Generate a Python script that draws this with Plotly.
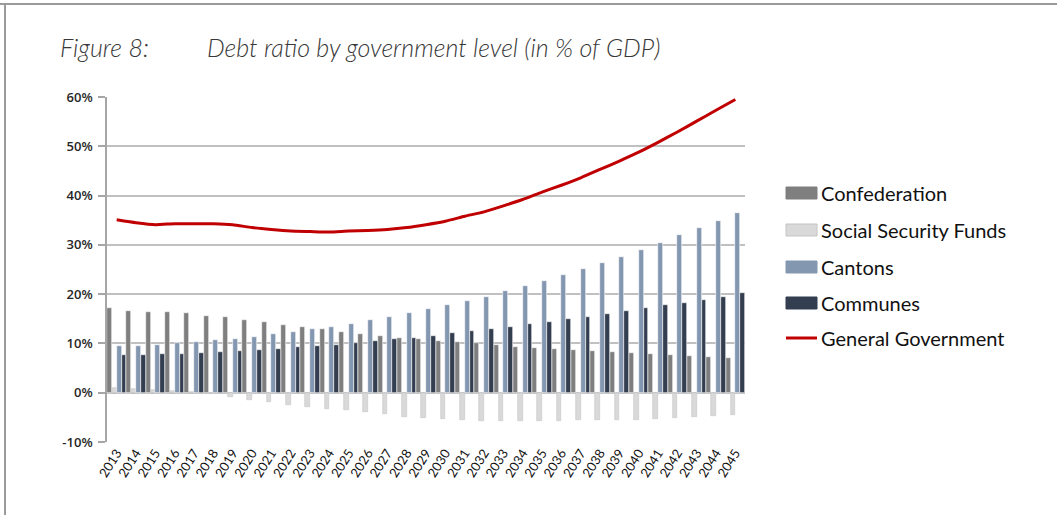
import plotly.graph_objects as go

# Debt ratio by government level, % of GDP
years = ["2013", "2014", "2015", "2016", "2017", "2018", "2019", "2020", "2021",
         "2022", "2023", "2024", "2025", "2026", "2027", "2028", "2029", "2030",
         "2031", "2032", "2033", "2034", "2035", "2036", "2037", "2038", "2039",
         "2040", "2041", "2042", "2043", "2044", "2045"]

confederation = [17.1, 16.6, 16.4, 16.3, 16.1, 15.6, 15.3, 14.8, 14.3, 13.8, 13.3,
                 12.9, 12.4, 12.0, 11.6, 11.2, 10.8, 10.5, 10.2, 10.0, 9.6, 9.3,
                 9.1, 8.8, 8.6, 8.4, 8.2, 8.0, 7.8, 7.6, 7.4, 7.2, 7.1]
social_security = [0.9, 0.7, 0.5, 0.3, 0.1, -0.3, -0.8, -1.4, -1.9, -2.4, -2.8,
                   -3.3, -3.6, -4.0, -4.4, -4.9, -5.1, -5.3, -5.5, -5.7, -5.8, -5.8,
                   -5.8, -5.7, -5.6, -5.6, -5.5, -5.5, -5.3, -5.1, -5.0, -4.8, -4.5]
cantons = [9.5, 9.5, 9.7, 10.0, 10.3, 10.6, 11.0, 11.4, 11.9, 12.4, 12.9,
           13.4, 14.0, 14.7, 15.4, 16.1, 16.9, 17.7, 18.7, 19.5, 20.6, 21.6,
           22.7, 23.9, 25.1, 26.4, 27.6, 29.0, 30.4, 31.9, 33.4, 34.9, 36.5]
communes = [7.7, 7.7, 7.9, 7.9, 8.1, 8.3, 8.5, 8.7, 8.9, 9.2, 9.5,
            9.7, 10.0, 10.4, 10.8, 11.2, 11.6, 12.1, 12.5, 12.9, 13.4, 13.9,
            14.4, 14.9, 15.4, 16.0, 16.6, 17.1, 17.7, 18.3, 18.9, 19.5, 20.2]
general_government = [35.1, 34.5, 34.1, 34.3, 34.3, 34.3, 34.1, 33.5, 33.1, 32.8, 32.7,
                      32.6, 32.8, 32.9, 33.1, 33.5, 34.1, 34.8, 35.8, 36.7, 37.9, 39.2,
                      40.7, 42.1, 43.6, 45.3, 47.0, 48.8, 50.8, 52.9, 55.1, 57.3, 59.5]

y_tick_values = [-10, 0, 10, 20, 30, 40, 50, 60]
y_tick_labels = ["-10%", "0%", "10%", "20%", "30%", "40%", "50%", "60%"]

series_names = ["Confederation", "Social Security Funds", "Cantons", "Communes",
                "General Government"]
series_colors = ["#7f7f7f", "#d9d9d9", "#8497b0", "#333f50", "#c00000"]

# Canvas and plot-area geometry (pixels)
W, H = 1057, 515
L, R, T, B = 107, 745, 97, 442
PW, PH = R - L, B - T


def px_x(px):
    return (px - L) / PW


def px_y(py):
    return (B - py) / PH


fig = go.Figure()

bar_series = [confederation, social_security, cantons, communes]
for name, color, values in zip(series_names[:4], series_colors[:4], bar_series):
    edge = "#c4c4c4" if name == "Social Security Funds" else "white"
    fig.add_trace(go.Bar(
        x=years, y=values, name=name,
        marker=dict(color=color, line=dict(color=edge, width=0.6)),
        showlegend=False,
    ))

fig.add_trace(go.Scatter(
    x=years, y=general_government, name=series_names[4], mode="lines",
    line=dict(color=series_colors[4], width=3, shape="spline", smoothing=0.5),
    showlegend=False,
))

shapes = []
annotations = []

# Frame lines along the top and left edge
shapes.append(dict(type="line", xref="paper", yref="paper",
                   x0=px_x(0), x1=px_x(W), y0=px_y(4), y1=px_y(4),
                   line=dict(color="#9a9a9a", width=2)))
shapes.append(dict(type="line", xref="paper", yref="paper",
                   x0=px_x(5), x1=px_x(5), y0=px_y(4), y1=px_y(H),
                   line=dict(color="#9a9a9a", width=2)))

# Title
title_font = dict(family="Lato", size=25, color="#383838", style="italic", weight=300)
annotations.append(dict(text="Figure 8:", xref="paper", yref="paper",
                        x=px_x(58), y=px_y(47), xanchor="left", yanchor="middle",
                        showarrow=False, font=title_font))
annotations.append(dict(text="Debt ratio by government level (in % of GDP)",
                        xref="paper", yref="paper",
                        x=px_x(205), y=px_y(47), xanchor="left", yanchor="middle",
                        showarrow=False, font=title_font))

# Legend
legend_rows = [193, 230, 267, 303, 338]
for name, color, yc in zip(series_names, series_colors, legend_rows):
    if name == "General Government":
        shapes.append(dict(type="line", xref="paper", yref="paper",
                           x0=px_x(786), x1=px_x(817), y0=px_y(yc), y1=px_y(yc),
                           line=dict(color=color, width=3)))
    else:
        edge = "#c4c4c4" if name == "Social Security Funds" else color
        shapes.append(dict(type="rect", xref="paper", yref="paper",
                           x0=px_x(786), x1=px_x(817), y0=px_y(yc + 6), y1=px_y(yc - 6),
                           fillcolor=color, line=dict(color=edge, width=1)))
    annotations.append(dict(text=name, xref="paper", yref="paper",
                            x=px_x(819), y=px_y(yc), xanchor="left", yanchor="middle",
                            showarrow=False,
                            font=dict(family="Lato", size=20, color="#111111")))

fig.update_layout(
    width=W, height=H,
    margin=dict(l=L, r=W - R, t=T, b=H - B, pad=0),
    paper_bgcolor="white", plot_bgcolor="white",
    barmode="group", bargap=0, bargroupgap=0,
    shapes=shapes, annotations=annotations,
    showlegend=False,
    xaxis=dict(
        type="category", tickangle=-58, showgrid=False, showline=False,
        ticks="", tickfont=dict(family="Lato", size=13, color="#111111"),
        zeroline=False,
    ),
    yaxis=dict(
        range=[-10, 60], tickvals=y_tick_values, ticktext=y_tick_labels,
        showgrid=True, gridcolor="#c0c0c0", gridwidth=1.5,
        zeroline=True, zerolinecolor="#c0c0c0", zerolinewidth=1.5,
        showline=True, linecolor="#a6a6a6", linewidth=1.5,
        ticks="outside", ticklen=7, tickcolor="#a6a6a6", tickwidth=1.5,
        tickfont=dict(family="Open Sans", size=13, color="#262626", weight=600),
        ticklabelstandoff=3,
    ),
)

fig.write_html("out.html")
